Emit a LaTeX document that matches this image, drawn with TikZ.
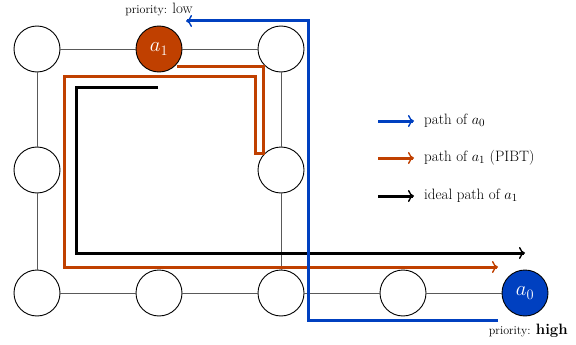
\documentclass[tikz,border=0pt]{standalone}
\usetikzlibrary{arrows.meta}
\definecolor{pblue}{RGB}{0,64,192}
\definecolor{porange}{RGB}{192,64,0}
\tikzset{
  vtx/.style={circle,draw=black,line width=0.9pt,fill=white,minimum size=46pt,inner sep=0pt},
  grid/.style={draw=black!65,line width=0.9pt},
  pathline/.style={line width=3pt,line cap=butt,line join=miter},
  tip/.style={-{To[length=6pt,width=12pt,line width=1.4pt]}},
  lbl/.style={anchor=west,inner sep=0pt,font=\fontsize{15}{18}\selectfont},
  agent/.style={text=white,font=\fontsize{20}{22}\selectfont},
}
\begin{document}
\begin{tikzpicture}[x=1pt,y=-1pt]
\useasboundingbox (0,0) rectangle (576,345);
% grid vertices
\node[vtx] (v11) at (37,49) {};
\node[vtx,fill=porange,agent] (v12) at (159,49) {$a_1$};
\node[vtx] (v13) at (281,49) {};
\node[vtx] (v21) at (37,170) {};
\node[vtx] (v23) at (281,170) {};
\node[vtx] (v31) at (37,293) {};
\node[vtx] (v32) at (159,293) {};
\node[vtx] (v33) at (281,293) {};
\node[vtx] (v34) at (403,293) {};
\node[vtx,fill=pblue,agent] (v35) at (525,293) {$a_0$};
% edges
\foreach \a/\b in {v11/v12,v12/v13,v11/v21,v21/v31,v13/v23,v23/v33,v31/v32,v32/v33,v33/v34,v34/v35}
  \draw[grid] (\a) -- (\b);
% ideal path of a1 (black)
\coordinate (k0) at (158,88);
\coordinate (k1) at (76,88);
\coordinate (k2) at (76,253);
\coordinate (k3) at (525,253);
\draw[pathline,tip,black] (k0) -- (k1) -- (k2) -- (k3);
% PIBT path of a1 (orange)
\coordinate (o0) at (177,67);
\coordinate (o1) at (263,67);
\coordinate (o2) at (263,153);
\coordinate (o3) at (255,153);
\coordinate (o4) at (255,77);
\coordinate (o5) at (64,77);
\coordinate (o6) at (64,267);
\coordinate (o7) at (498,267);
\draw[pathline,tip,porange] (o0) -- (o1) -- (o2) -- (o3) -- (o4) -- (o5) -- (o6) -- (o7);
% path of a0 (blue)
\coordinate (b0) at (498,320);
\coordinate (b1) at (308,320);
\coordinate (b2) at (308,21);
\coordinate (b3) at (186,21);
\draw[pathline,tip,pblue] (b0) -- (b1) -- (b2) -- (b3);
% priorities
\node[inner sep=0pt] (plow) at (159,10) {\fontsize{12}{14}\selectfont priority: \fontsize{15}{17}\selectfont low};
\node[inner sep=0pt,anchor=east] (phigh) at (568,331) {\fontsize{12}{14}\selectfont priority: \fontsize{15}{17}\selectfont\bfseries high};
% legend
\coordinate (l1a) at (378,121); \coordinate (l1b) at (414,121);
\coordinate (l2a) at (378,158); \coordinate (l2b) at (414,158);
\coordinate (l3a) at (378,196); \coordinate (l3b) at (414,196);
\draw[pathline,tip,pblue] (l1a) -- (l1b);
\draw[pathline,tip,porange] (l2a) -- (l2b);
\draw[pathline,tip,black] (l3a) -- (l3b);
\node[lbl] (t1) at (424,121) {path of $a_0$};
\node[lbl] (t2) at (424,158) {path of $a_1$ (PIBT)};
\node[lbl] (t3) at (424,196) {ideal path of $a_1$};
\end{tikzpicture}
\end{document}
